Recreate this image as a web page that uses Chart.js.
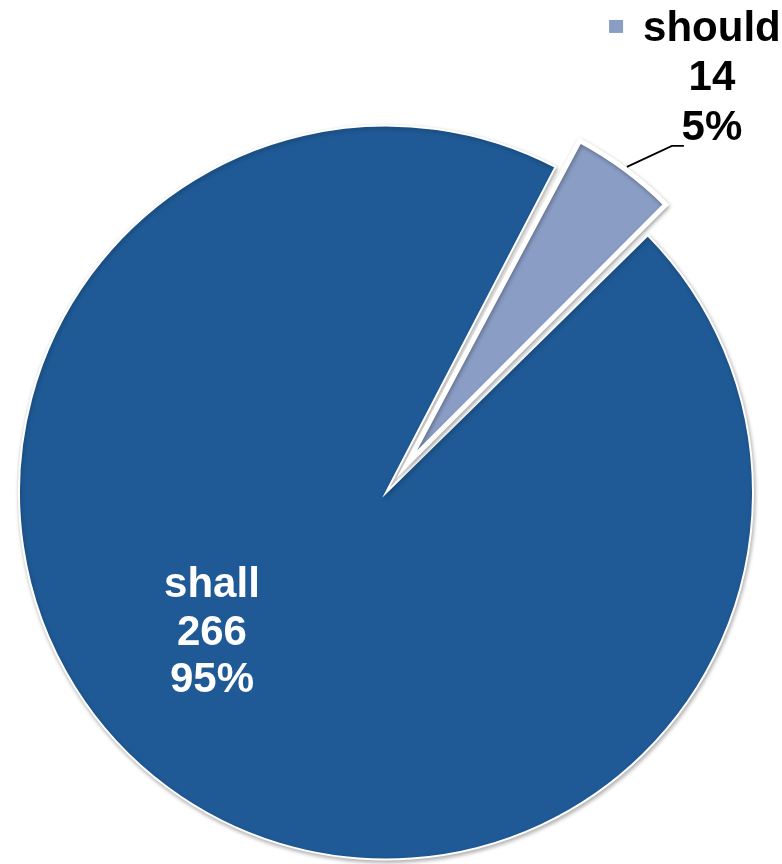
<!DOCTYPE html>
<html>
<head>
<meta charset="utf-8">
<script src="https://cdn.jsdelivr.net/npm/chart.js@4.4.1/dist/chart.umd.min.js"></script>
<style>
  html, body { margin: 0; padding: 0; background: #ffffff; }
  #wrap { width: 782px; height: 864px; position: relative; }
</style>
</head>
<body>
<div id="wrap"><canvas id="c" width="782" height="864"></canvas></div>
<script>
// ---- data ----
const categories = ['shall', 'should'];
const values = [266, 14];
const sliceColors = ['#1F5A96', '#8A9DC5'];
const explode = [0, 140];          // Chart.js arc offset (drawn shift = offset / 4)
const borderWidths = [2, 5];

// ---- style constants ----
const RADIUS = 367;
const FONT = 'bold 42px "Liberation Sans", Arial, sans-serif';
const total = values.reduce((a, b) => a + b, 0);
const pctText = v => Math.round(v / total * 100) + '%';

// keep exploded slice at the same radius as the rest of the pie
const radiusFix = {
  id: 'radiusFix',
  afterDatasetUpdate(chart, args) {
    args.meta.data.forEach((el, i) => {
      const off = (explode[i] || 0) / 4;
      const circ = el.endAngle - el.startAngle;
      const fix = 1 - Math.sin(Math.min(Math.PI, circ || 0));
      el.outerRadius = RADIUS - off * fix;
    });
  }
};

const shadowAndLabels = {
  id: 'shadowAndLabels',
  beforeDatasetsDraw(chart) {
    const ctx = chart.ctx;
    ctx.save();
    ctx.shadowColor = 'rgba(0,0,0,0.30)';
    ctx.shadowBlur = 4;
    ctx.shadowOffsetX = 1;
    ctx.shadowOffsetY = 2;
  },
  afterDatasetsDraw(chart) {
    const ctx = chart.ctx;
    ctx.restore();
    const meta = chart.getDatasetMeta(0);

    // ---- inside label for "shall" ----
    const a0 = meta.data[0];
    const ang = 141.8 * Math.PI / 180;
    const lx = a0.x + Math.cos(ang) * 0.6035 * RADIUS;
    const ly = a0.y + Math.sin(ang) * 0.6035 * RADIUS;
    ctx.save();
    ctx.font = FONT;
    ctx.fillStyle = '#ffffff';
    ctx.textAlign = 'center';
    ctx.textBaseline = 'alphabetic';
    const lines0 = [categories[0], String(values[0]), pctText(values[0])];
    const lh0 = 47.5;
    lines0.forEach((t, k) => {
      ctx.fillText(t, lx, ly - 32 + k * lh0);
    });
    ctx.restore();

    // ---- outside label with leader line for "should" ----
    const a1 = meta.data[1];
    const mid = (a1.startAngle + a1.endAngle) / 2;
    const off = explode[1] / 4;
    const cx = a1.x + Math.cos(mid) * off;
    const cy = a1.y + Math.sin(mid) * off;
    const p0x = cx + Math.cos(mid) * (RADIUS + 3);
    const p0y = cy + Math.sin(mid) * (RADIUS + 3);
    const ex = p0x + 45, ey = p0y - 21;
    const fx = ex + 12, fy = ey;
    ctx.save();
    ctx.strokeStyle = '#000000';
    ctx.lineWidth = 1.8;
    ctx.beginPath();
    ctx.moveTo(p0x, p0y);
    ctx.lineTo(ex, ey);
    ctx.lineTo(fx, fy);
    ctx.stroke();

    ctx.font = FONT;
    ctx.fillStyle = '#000000';
    ctx.textAlign = 'center';
    ctx.textBaseline = 'alphabetic';
    const tx = fx + 28;
    const lh1 = 49.5;
    const lines1 = [categories[1], String(values[1]), pctText(values[1])];
    const lastBase = fy - 6;
    lines1.forEach((t, k) => {
      ctx.fillText(t, tx, lastBase - (lines1.length - 1 - k) * lh1);
    });
    // legend key before the category name
    const firstBase = lastBase - (lines1.length - 1) * lh1;
    const w = ctx.measureText(lines1[0]).width;
    const keyRight = tx - w / 2 - 20;
    ctx.fillStyle = sliceColors[1];
    ctx.fillRect(keyRight - 14, firstBase - 21, 14, 13);
    ctx.restore();
  }
};

new Chart(document.getElementById('c'), {
  type: 'pie',
  data: {
    labels: categories,
    datasets: [{
      data: values,
      backgroundColor: sliceColors,
      borderColor: '#ffffff',
      borderWidth: borderWidths,
      borderJoinStyle: 'miter',
      offset: explode
    }]
  },
  options: {
    responsive: false,
    animation: false,
    devicePixelRatio: 1,
    rotation: 45.5,
    radius: RADIUS,
    layout: { padding: { top: 121, bottom: 0, left: 0, right: 10 } },
    plugins: {
      legend: { display: false },
      tooltip: { enabled: false }
    },
    events: []
  },
  plugins: [radiusFix, shadowAndLabels]
});
</script>
</body>
</html>
